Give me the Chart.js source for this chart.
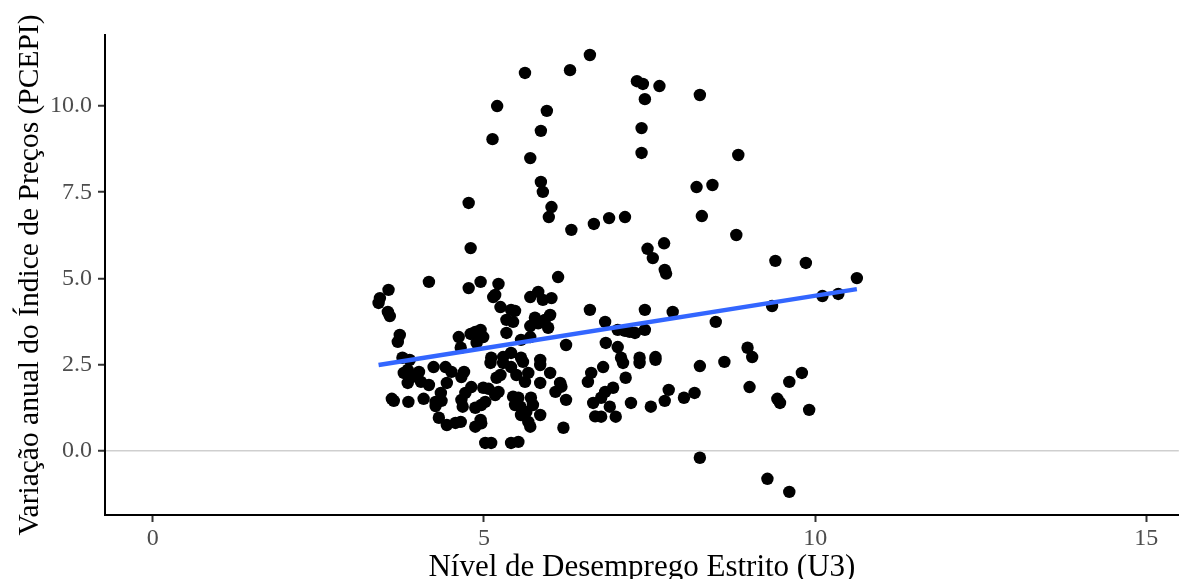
<!DOCTYPE html>
<html>
<head>
<meta charset="utf-8">
<script src="https://cdn.jsdelivr.net/npm/chart.js@4.4.1/dist/chart.umd.min.js"></script>
<style>
  html, body { margin: 0; padding: 0; background: #fff; }
  #wrap { width: 1185px; height: 579px; position: relative; }
</style>
</head>
<body>
<div id="wrap"><canvas id="c" width="1185" height="579"></canvas></div>
<script>
// Unemployment rate (U3) and annual PCEPI variation
const unemployment = [
  6.60,6.30,5.62,5.20,5.95,7.31,7.40,7.65,7.43,8.26,7.38,5.86,5.13,5.70,7.38,8.84,5.86,5.89,8.21,8.45,
  4.77,6.02,5.98,8.29,6.89,7.13,6.32,6.66,8.81,4.80,7.47,7.72,7.55,7.73,7.75,9.40,9.86,10.63,4.17,4.95,
  5.22,6.12,
  3.41,3.43,3.56,3.55,3.58,3.73,3.70,4.77,5.17,5.14,5.25,5.41,5.47,5.34,5.44,5.70,5.82,5.89,6.02,5.77,
  6.00,5.92,5.70,5.97,5.82,6.60,7.43,7.85,6.83,8.50,9.35,10.11,10.35,4.95,4.99,5.34,5.56,5.70,6.24,7.02,
  7.20,7.28,7.43,7.13,6.84,7.02,4.62,4.80,4.87,4.65,4.89,
  3.77,3.88,3.85,3.79,3.91,3.85,4.02,4.05,4.17,4.24,4.42,4.51,4.66,4.44,4.70,5.11,5.29,5.41,5.56,5.85,
  5.10,5.29,5.41,5.59,5.85,5.25,5.19,5.49,5.67,5.62,5.85,6.00,6.15,6.17,6.08,6.62,6.57,7.07,7.35,7.59,
  6.80,7.10,7.35,7.59,8.26,7.14,8.98,9.05,8.63,9.80,9.61,
  3.61,3.64,3.86,4.09,4.35,4.27,4.36,4.27,4.32,4.44,4.57,4.65,4.66,4.72,4.81,4.87,4.87,4.68,4.99,5.07,
  5.22,5.17,5.02,4.96,4.95,4.96,5.44,5.52,5.47,5.55,5.71,5.74,5.64,5.56,5.85,5.67,5.70,6.20,6.24,5.02,
  5.11,5.41,5.52,6.65,6.68,6.83,6.95,6.77,6.90,6.77,6.99,7.22,7.52,7.73,7.79,8.02,8.18,9.01,9.43,9.47,
  9.91,8.26,9.28,9.61
];
const inflation = [
  11.48,11.04,10.96,10.00,9.86,10.72,10.64,10.58,10.20,10.32,9.36,9.28,9.04,8.49,8.64,8.58,7.80,7.51,7.65,7.71,
  7.19,7.07,6.78,6.81,6.75,6.78,6.41,6.58,6.26,5.88,5.86,6.02,5.59,5.25,5.14,5.51,5.45,5.01,4.90,4.90,
  4.84,5.04,
  4.29,4.43,4.67,4.03,3.91,3.36,3.16,4.72,4.52,4.46,4.17,4.09,4.06,3.80,3.74,4.46,4.61,4.38,4.43,3.86,
  3.94,3.80,3.62,3.57,3.70,4.09,4.09,4.03,3.74,3.74,4.20,4.49,4.55,3.51,3.30,3.42,3.22,3.30,3.07,3.51,
  3.45,3.42,3.51,3.48,3.13,3.01,3.30,3.39,3.45,2.99,3.13,
  2.70,2.64,2.35,2.26,2.14,1.97,2.29,2.00,1.91,2.43,2.43,2.29,2.14,1.97,2.29,2.70,2.72,2.84,2.70,2.64,
  2.55,2.55,2.43,2.58,2.49,2.20,2.12,2.20,2.26,2.00,1.97,2.26,1.97,1.86,1.71,2.26,2.00,2.70,2.70,2.72,
  2.43,2.55,2.55,2.64,2.46,2.12,2.99,2.72,2.58,2.26,2.00,
  1.51,1.45,1.42,1.51,1.68,1.42,1.45,1.30,0.96,0.75,0.81,0.84,1.48,1.68,1.85,1.25,0.70,1.28,1.83,1.80,
  1.71,1.62,1.42,1.33,0.90,0.80,1.57,1.54,1.33,1.28,1.54,1.33,1.13,1.04,1.04,0.84,0.70,0.67,1.48,0.23,
  0.23,0.23,0.26,1.39,1.00,1.71,1.83,1.54,1.28,0.99,0.99,1.39,1.28,1.45,1.77,1.54,1.68,1.85,1.51,1.39,
  1.19,-0.20,-0.81,-1.19
];
// Linear trend endpoints
const trendX = [3.41, 10.63];
const trendY = [2.49, 4.69];
// Axis ticks
const xTicks = [0, 5, 10, 15];
const yTicks = [0, 2.5, 5, 7.5, 10];

const points = unemployment.map((x, i) => ({ x: x, y: inflation[i] }));
const trend = trendX.map((x, i) => ({ x: x, y: trendY[i] }));

const serif = "'Liberation Serif', 'DejaVu Serif', serif";

new Chart(document.getElementById('c'), {
  type: 'scatter',
  data: {
    datasets: [
      {
        type: 'line',
        data: trend,
        borderColor: '#3366FF',
        borderWidth: 4.5,
        pointRadius: 0,
        fill: false,
        order: 0
      },
      {
        data: points,
        backgroundColor: '#000000',
        borderWidth: 0,
        pointRadius: 6.2,
        pointHoverRadius: 6.2,
        order: 1
      }
    ]
  },
  options: {
    responsive: false,
    animation: false,
    events: [],
    layout: { padding: { top: 35, right: 2, left: 0, bottom: 0 } },
    plugins: { legend: { display: false }, tooltip: { enabled: false } },
    scales: {
      x: {
        type: 'linear',
        min: -0.72,
        max: 15.49,
        afterBuildTicks: s => { s.ticks = xTicks.map(v => ({ value: v })); },
        afterFit: s => { s.height = 64; },
        border: { color: '#000', width: 2 },
        grid: { drawOnChartArea: false, tickLength: 7, tickColor: '#333', tickWidth: 2 },
        ticks: {
          color: '#4d4d4d',
          font: { family: serif, size: 24 },
          padding: 2,
          maxRotation: 0,
          callback: v => String(v)
        },
        title: {
          display: true,
          text: 'Nível de Desemprego Estrito (U3)',
          color: '#000',
          font: { family: serif, size: 31, lineHeight: 0.75 },
          padding: { top: 0, bottom: 0 }
        }
      },
      y: {
        type: 'linear',
        min: -1.86,
        max: 12.06,
        afterBuildTicks: s => { s.ticks = yTicks.map(v => ({ value: v })); },
        afterFit: s => { s.width = 105; },
        border: { color: '#000', width: 2 },
        grid: {
          drawOnChartArea: true,
          color: ctx => (ctx.tick && ctx.tick.value === 0) ? '#cfcfcf' : 'rgba(0,0,0,0)',
          lineWidth: 1.5,
          tickLength: 7,
          tickColor: '#333',
          tickWidth: 2
        },
        ticks: {
          color: '#4d4d4d',
          font: { family: serif, size: 24 },
          padding: 6,
          callback: v => Number(v).toFixed(1)
        },
        title: {
          display: true,
          text: 'Variação anual do Índice de Preços (PCEPI)',
          color: '#000',
          font: { family: serif, size: 29.5, lineHeight: 0.8 },
          padding: { top: 18, bottom: 0 }
        }
      }
    }
  }
});
</script>
</body>
</html>
